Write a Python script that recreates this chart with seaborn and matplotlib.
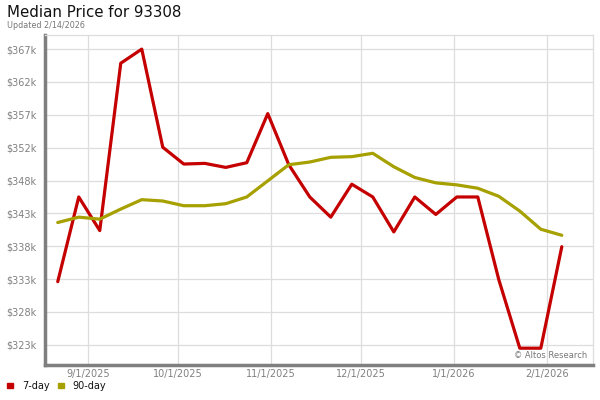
import pandas as pd
import matplotlib
matplotlib.use("Agg")
import matplotlib.pyplot as plt
import seaborn as sns

# weekly points, first one on 8/22/2025
start_date = "2025-08-22"
n_weeks = 25

price_7day = [332.4, 345.0, 340.0, 364.9, 367.0, 352.4, 349.9, 350.0, 349.4, 350.1,
              357.4, 349.8, 345.0, 342.0, 346.9, 345.0, 339.8, 345.0, 342.4, 345.0,
              345.0, 332.7, 322.5, 322.5, 337.6]
price_90day = [341.2, 342.0, 341.7, 343.2, 344.6, 344.4, 343.7, 343.7, 344.0, 345.0,
               347.4, 349.8, 350.2, 350.9, 351.0, 351.5, 349.5, 347.9, 347.1, 346.8,
               346.3, 345.1, 342.9, 340.2, 339.3]

ytick_labels = ["$323k", "$328k", "$333k", "$338k", "$343k",
                "$348k", "$352k", "$357k", "$362k", "$367k"]
xtick_dates = ["2025-09-01", "2025-10-01", "2025-11-01", "2025-12-01", "2026-01-01", "2026-02-01"]
xtick_labels = ["9/1/2025", "10/1/2025", "11/1/2025", "12/1/2025", "1/1/2026", "2/1/2026"]

colors = {"7-day": "#c40000", "90-day": "#a6a000"}

dates = pd.date_range(start_date, periods=n_weeks, freq="7D")
df = pd.concat([
    pd.DataFrame({"date": dates, "price": price_7day, "series": "7-day"}),
    pd.DataFrame({"date": dates, "price": price_90day, "series": "90-day"}),
])

sns.set_style("white")
plt.rcParams["font.family"] = ["DejaVu Sans"]

fig = plt.figure(figsize=(6, 4), dpi=100)
ax = fig.add_axes([0.075, 0.0875, 0.913, 0.825])

sns.lineplot(data=df, x="date", y="price", hue="series", palette=colors,
             linewidth=2.3, ax=ax, legend=False)

# y axis: evenly spaced ticks
y0, y1 = 323.0, 367.0
yticks = [y0 + i * (y1 - y0) / (len(ytick_labels) - 1) for i in range(len(ytick_labels))]
ax.set_yticks(yticks)
ax.set_yticklabels(ytick_labels)
ax.set_ylim(320.0, 369.1)

ax.set_xticks(pd.to_datetime(xtick_dates))
ax.set_xticklabels(xtick_labels)
ax.set_xlim(pd.Timestamp("2025-08-17 18:00"), pd.Timestamp("2026-02-16 08:00"))

ax.grid(True, color="#dddddd", linewidth=0.9)
ax.set_axisbelow(True)
ax.set_xlabel("")
ax.set_ylabel("")
ax.tick_params(axis="y", length=0, labelsize=7, labelcolor="#808080", pad=6)
ax.tick_params(axis="x", length=0, labelsize=7, labelcolor="#808080", pad=3)

for side in ["top", "right"]:
    ax.spines[side].set_color("#dddddd")
    ax.spines[side].set_linewidth(0.9)
for side in ["left", "bottom"]:
    ax.spines[side].set_color("#7f7f7f")
    ax.spines[side].set_linewidth(2.5)

fig.text(0.012, 0.968, "Median Price for 93308", fontsize=10.8, color="#111111", va="center")
fig.text(0.012, 0.937, "Updated 2/14/2026", fontsize=5.8, color="#777777", va="center")

ax.text(0.99, 0.03, "\u00a9 Altos Research", transform=ax.transAxes, fontsize=6,
        color="#777777", ha="right", va="center")

# legend at bottom left
fig.patches.append(plt.Rectangle((0.012, 0.029), 0.009, 0.014, transform=fig.transFigure,
                                 color=colors["7-day"], figure=fig))
fig.text(0.037, 0.036, "7-day", fontsize=7, color="#111111", va="center")
fig.patches.append(plt.Rectangle((0.097, 0.029), 0.009, 0.014, transform=fig.transFigure,
                                 color=colors["90-day"], figure=fig))
fig.text(0.121, 0.036, "90-day", fontsize=7, color="#111111", va="center")

fig.savefig("out.png", dpi=100)
